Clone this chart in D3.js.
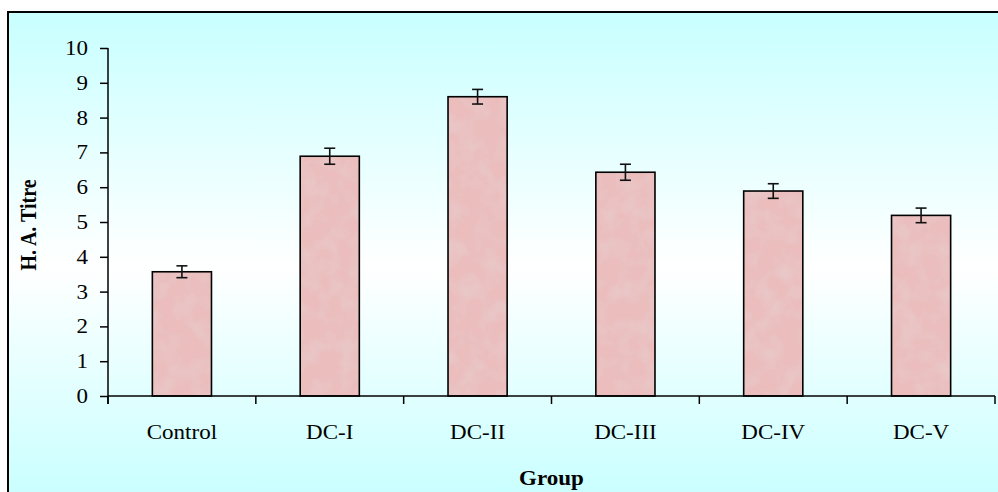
<!DOCTYPE html>
<html><head><meta charset="utf-8">
<script src="https://cdn.jsdelivr.net/npm/d3@7"></script>
<style>html,body{margin:0;padding:0;background:#fff;overflow:hidden}</style>
</head><body>
<svg id="c" width="998" height="492"></svg>
<script>
const categories = ["Control", "DC-I", "DC-II", "DC-III", "DC-IV", "DC-V"];
const values = [3.57, 6.89, 8.60, 6.43, 5.89, 5.19];
const errors = [0.17, 0.23, 0.21, 0.23, 0.21, 0.21];
const yTicks = [0, 1, 2, 3, 4, 5, 6, 7, 8, 9, 10];
const yTitle = "H. A. Titre";
const xTitle = "Group";
const FONT = "'Liberation Serif', 'Times New Roman', serif";

const svg = d3.select("#c");
const defs = svg.append("defs");
const g1 = defs.append("linearGradient").attr("id","bg").attr("x1",0).attr("y1",0).attr("x2",0).attr("y2",1);
g1.append("stop").attr("offset","0%").attr("stop-color","#c8ffff");
g1.append("stop").attr("offset","52%").attr("stop-color","#ffffff");
g1.append("stop").attr("offset","100%").attr("stop-color","#c8ffff");

const f = defs.append("filter").attr("id","tex").attr("x",0).attr("y",0).attr("width",1).attr("height",1);
f.append("feTurbulence").attr("type","fractalNoise").attr("baseFrequency",0.05).attr("numOctaves",3).attr("seed",7).attr("result","n");
f.append("feColorMatrix").attr("in","n").attr("type","matrix")
  .attr("values","0 0 0 0 0.80  0 0 0 0 0.62  0 0 0 0 0.62  0 0 0 -1.2 0.75").attr("result","c");
f.append("feComposite").attr("in","c").attr("in2","SourceGraphic").attr("operator","in").attr("result","t");
f.append("feMerge").selectAll("feMergeNode").data(["SourceGraphic","t"]).enter().append("feMergeNode").attr("in",d=>d);

svg.append("rect").attr("x",8).attr("y",12).attr("width",1000).attr("height",490)
  .attr("fill","url(#bg)").attr("stroke","#000").attr("stroke-width",2);

const x0 = 108, x1 = 995, y0 = 396, y1 = 48;
const x = d3.scaleBand().domain(categories).range([x0, x1]).paddingInner(0).paddingOuter(0);
const y = d3.scaleLinear().domain([0, 10]).range([y0, y1]);
const bw = x.bandwidth() * 0.4;
const SX = 1.15;

// bars (textured fill, then crisp outline)
const bx = d => x(d) + (x.bandwidth() - bw) / 2;
svg.append("g").selectAll("rect").data(categories).enter().append("rect")
  .attr("x", bx).attr("y", (d,i) => y(values[i]))
  .attr("width", bw).attr("height", (d,i) => y(0) - y(values[i]))
  .attr("fill", "#ebbdbd").attr("filter","url(#tex)");
svg.append("g").selectAll("rect").data(categories).enter().append("rect")
  .attr("x", bx).attr("y", (d,i) => y(values[i]))
  .attr("width", bw).attr("height", (d,i) => y(0) - y(values[i]))
  .attr("fill", "none").attr("stroke", "#000").attr("stroke-width", 1.6);

// error bars
const eg = svg.append("g").attr("stroke","#111").attr("stroke-width",1.6);
categories.forEach((c,i) => {
  const cx = x(c) + x.bandwidth()/2;
  const hi = y(values[i]+errors[i]), lo = y(values[i]-errors[i]);
  eg.append("line").attr("x1",cx).attr("x2",cx).attr("y1",hi).attr("y2",lo);
  eg.append("line").attr("x1",cx-5.5).attr("x2",cx+5.5).attr("y1",hi).attr("y2",hi);
  eg.append("line").attr("x1",cx-5.5).attr("x2",cx+5.5).attr("y1",lo).attr("y2",lo);
});

// y axis
const ya = svg.append("g").attr("transform",`translate(${x0},0)`)
  .call(d3.axisLeft(y).tickValues(yTicks).tickSize(8).tickSizeOuter(0).tickFormat(() => ""));
ya.select(".domain").remove();
ya.selectAll("line").attr("stroke","#000").attr("stroke-width",1.5);
svg.append("line").attr("x1",x0).attr("x2",x0).attr("y1",y(10)).attr("y2",404).attr("stroke","#000").attr("stroke-width",1.5);
svg.append("g").selectAll("text").data(yTicks).enter().append("text")
  .attr("transform", d => `translate(88,${y(d)+7}) scale(${SX},1)`)
  .attr("text-anchor","end").attr("font-family",FONT).attr("font-size",20).attr("fill","#000")
  .text(d => d);

// x axis
svg.append("line").attr("x1",x0).attr("x2",x1).attr("y1",y0).attr("y2",y0).attr("stroke","#000").attr("stroke-width",1.5);
const bounds = categories.map(c => x(c) + x.bandwidth()).concat([x0]);
svg.append("g").selectAll("line").data(bounds).enter().append("line")
  .attr("x1",d=>d).attr("x2",d=>d).attr("y1",y0).attr("y2",404).attr("stroke","#000").attr("stroke-width",1.5);
svg.append("g").selectAll("text").data(categories).enter().append("text")
  .attr("transform", d => `translate(${x(d)+x.bandwidth()/2},439) scale(${SX},1)`)
  .attr("text-anchor","middle").attr("font-family",FONT).attr("font-size",20).attr("fill","#000")
  .text(d => d);

// titles
svg.append("text").attr("transform",`translate(${(x0+x1)/2},485) scale(${SX},1)`)
  .attr("text-anchor","middle").attr("font-family",FONT).attr("font-weight","bold").attr("font-size",20)
  .text(xTitle);
svg.append("text").attr("transform",`translate(36,225) rotate(-90) scale(1,${SX})`)
  .attr("text-anchor","middle").attr("font-family",FONT).attr("font-weight","bold").attr("font-size",20)
  .text(yTitle);
</script>
</body></html>
